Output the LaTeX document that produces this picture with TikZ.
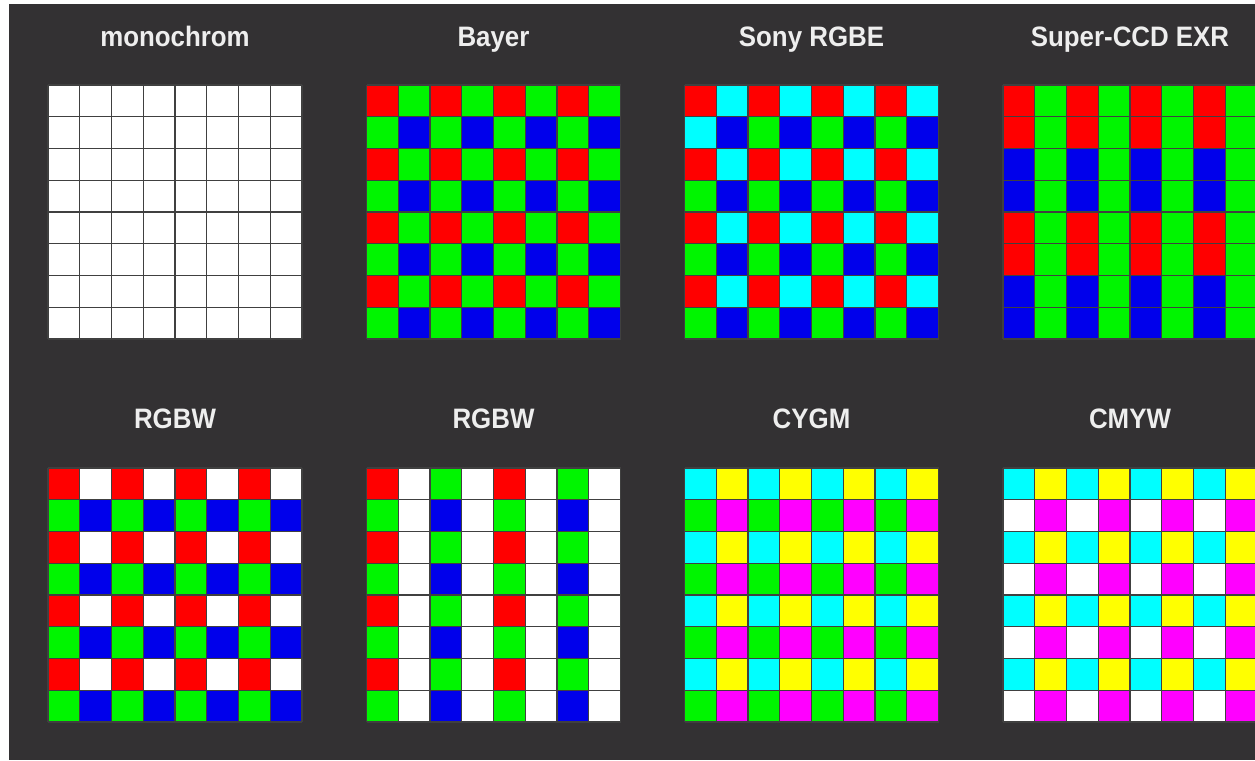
\documentclass[tikz,border=0pt]{standalone}
\usepackage{fontspec}
\setmainfont{Liberation Sans}
\usepackage{xcolor}
\usepackage{graphicx}
\usetikzlibrary{positioning}

\definecolor{bgdark}{RGB}{51,49,51}
\definecolor{titlegray}{RGB}{238,238,238}
\definecolor{pxR}{RGB}{255,0,0}
\definecolor{pxG}{RGB}{0,245,0}
\definecolor{pxB}{RGB}{0,0,235}
\definecolor{pxC}{RGB}{0,255,255}
\definecolor{pxY}{RGB}{255,255,0}
\definecolor{pxM}{RGB}{255,0,255}
\definecolor{pxW}{RGB}{255,255,255}

\tikzset{
  pixline/.style={draw=black!75,line width=0.7pt},
  cfatitle/.style={text=titlegray,font=\bfseries\fontsize{16}{19}\selectfont,anchor=base}
}

% 0 R, 1 G, 2 B, 3 C, 4 Y, 5 M, 6 W
\newcommand{\cfacolor}[1]{\ifcase#1 pxR\or pxG\or pxB\or pxC\or pxY\or pxM\or pxW\fi}
\newcommand{\cfaname}[1]{\scalebox{0.92}[1]{#1}}

% #1,#2 top left corner, #3 x #4 tile size, #5 tile colours, #6 extra cells
\newcommand{\cfagrid}[6]{%
  \begin{scope}[shift={(#1,#2)},x=0.635cm,y=-0.635cm]
    \foreach \r in {0,...,7}
      \foreach \k in {0,...,7} {
        \pgfmathtruncatemacro{\idx}{mod(\r,#4)*#3+mod(\k,#3)}
        \pgfmathtruncatemacro{\ci}{{#5}[\idx]}
        \edef\pixcol{\cfacolor{\ci}}
        \fill[fill=\pixcol] (\k,\r) rectangle ++(1,1);
      }
    #6
    \foreach \i in {0,...,8} {
      \draw[pixline] (\i,0) -- (\i,8);
      \draw[pixline] (0,\i) -- (8,\i);
    }
  \end{scope}}

\begin{document}
\begin{tikzpicture}
  \useasboundingbox (0,0) rectangle (25.1,-15.2);
  \clip (0,0) rectangle (25.1,-15.2);
  \fill[white] (0,0) rectangle (25.1,-15.2);
  \fill[bgdark] (0.18,-0.08) rectangle (25.1,-15.2);

  % upper row
  \cfagrid{0.96}{-1.70}{2}{1}{6,6}{}
  \cfagrid{7.33}{-1.70}{2}{2}{0,1,1,2}{}
  \cfagrid{13.69}{-1.70}{2}{2}{0,3,1,2}{\fill[pxC] (0,1) rectangle ++(1,1);}
  \cfagrid{20.06}{-1.70}{2}{4}{0,1,0,1,2,1,2,1}{}
  % lower row
  \cfagrid{0.96}{-9.36}{2}{2}{0,6,1,2}{}
  \cfagrid{7.33}{-9.36}{4}{2}{0,6,1,6,1,6,2,6}{}
  \cfagrid{13.69}{-9.36}{2}{2}{3,4,1,5}{}
  \cfagrid{20.06}{-9.36}{2}{2}{3,4,6,5}{}

  \node[cfatitle] (t-mono)  at (3.50,-0.92) {\cfaname{monochrom}};
  \node[cfatitle] (t-bayer) at (9.87,-0.92) {\cfaname{Bayer}};
  \node[cfatitle] (t-sony)  at (16.23,-0.92) {\cfaname{Sony RGBE}};
  \node[cfatitle] (t-exr)   at (22.60,-0.92) {\cfaname{Super-CCD EXR}};
  \node[cfatitle] (t-rgbw)  at (3.50,-8.56) {\cfaname{RGBW}};
  \node[cfatitle] (t-rgbwb) at (9.87,-8.56) {\cfaname{RGBW}};
  \node[cfatitle] (t-cygm)  at (16.23,-8.56) {\cfaname{CYGM}};
  \node[cfatitle] (t-cmyw)  at (22.60,-8.56) {\cfaname{CMYW}};
\end{tikzpicture}
\end{document}
